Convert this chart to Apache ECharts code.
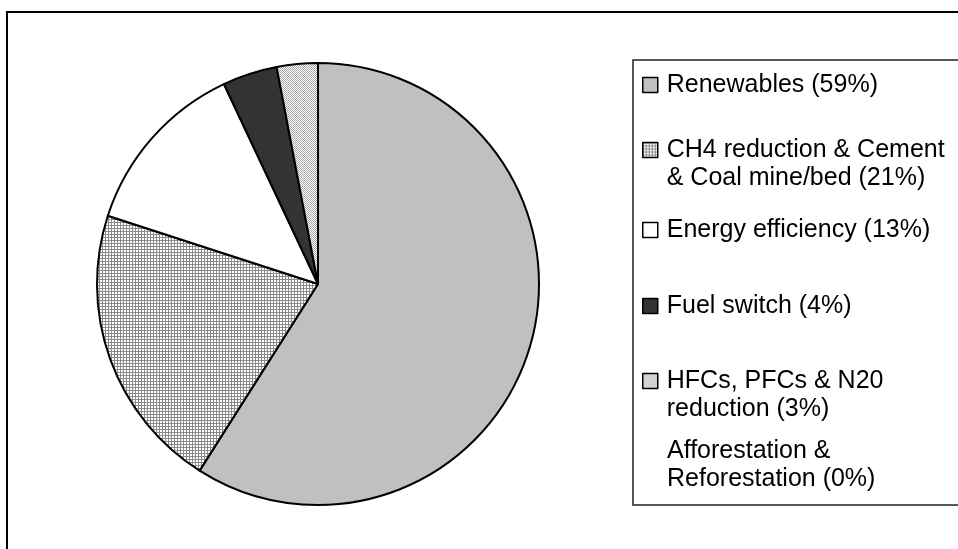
<!DOCTYPE html>
<html>
<head>
<meta charset="utf-8">
<script src="https://cdn.jsdelivr.net/npm/echarts@6/dist/echarts.min.js"></script>
<style>
html,body{margin:0;padding:0;background:#fff;}
#chart{width:958px;height:549px;}
</style>
</head>
<body>
<div id="chart"></div>
<script>
// ---- data ----
var categories = [
  'Renewables (59%)',
  'CH4 reduction & Cement\n& Coal mine/bed (21%)',
  'Energy efficiency (13%)',
  'Fuel switch (4%)',
  'HFCs, PFCs & N20\nreduction (3%)',
  'Afforestation &\nReforestation (0%)'
];
var values = [59, 21, 13, 4, 3, 0];

// ---- fill styles ----
function gridPattern() {
  var c = document.createElement('canvas');
  c.width = 3; c.height = 3;
  var g = c.getContext('2d');
  g.fillStyle = '#ffffff'; g.fillRect(0, 0, 3, 3);
  g.fillStyle = '#8a8a8a';
  g.fillRect(0, 0, 3, 1);
  g.fillRect(0, 0, 1, 3);
  return { image: c, repeat: 'repeat' };
}
function dotPattern() {
  var c = document.createElement('canvas');
  c.width = 2; c.height = 2;
  var g = c.getContext('2d');
  g.fillStyle = '#ffffff'; g.fillRect(0, 0, 2, 2);
  g.fillStyle = '#a8a8a8';
  g.fillRect(0, 0, 1, 1);
  g.fillRect(1, 1, 1, 1);
  return { image: c, repeat: 'repeat' };
}
var fills = ['#c0c0c0', gridPattern(), '#ffffff', '#333333', dotPattern(), '#ffffff'];

var legendTops = [71, 108, 216, 292, 339, 409];

var chart = echarts.init(document.getElementById('chart'), null, { renderer: 'canvas' });

var legends = categories.map(function (name, i) {
  var multi = name.indexOf('\n') >= 0;
  return {
    data: [name],
    left: 642,
    top: legendTops[i],
    padding: 0,
    itemWidth: 15,
    itemHeight: 15,
    itemGap: 0,
    icon: 'rect',
    selectedMode: false,
    formatter: function (n) { return multi ? '\n' + n : n; },
    itemStyle: i === 5 ? { opacity: 0 } : { borderColor: '#000', borderWidth: 1.5 },
    textStyle: {
      fontFamily: 'Liberation Sans, Arial, sans-serif',
      fontSize: 25,
      color: '#000',
      lineHeight: 28,
      padding: [0, 0, 0, 4]
    }
  };
});

var option = {
  backgroundColor: '#ffffff',
  animation: false,
  graphic: [
    { type: 'rect', shape: { x: 7, y: 12, width: 1000, height: 700 },
      style: { fill: 'none', stroke: '#000', lineWidth: 2 }, silent: true, z: -1 },
    { type: 'rect', shape: { x: 633, y: 60, width: 400, height: 445 },
      style: { fill: 'none', stroke: '#222', lineWidth: 1.5 }, silent: true, z: -1 }
  ],
  legend: legends,
  series: [{
    type: 'pie',
    center: [318, 284],
    radius: 221,
    startAngle: 90,
    clockwise: true,
    silent: true,
    label: { show: false },
    labelLine: { show: false },
    itemStyle: { borderColor: '#000', borderWidth: 2 },
    data: categories.map(function (name, i) {
      return { name: name, value: values[i], itemStyle: { color: fills[i] } };
    })
  }]
};
chart.setOption(option);
</script>
</body>
</html>
